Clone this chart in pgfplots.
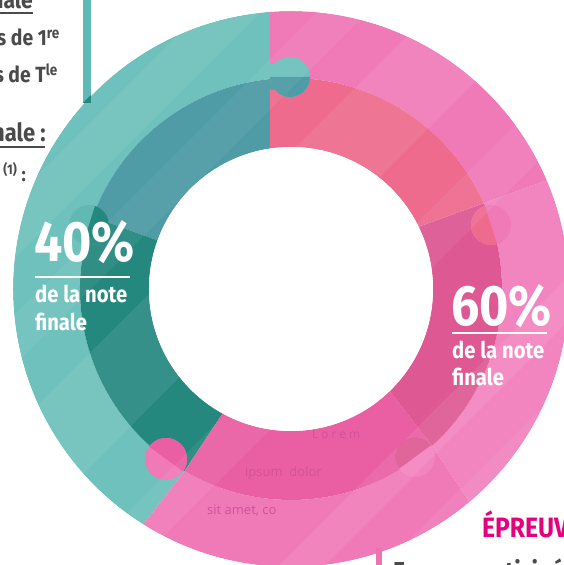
\documentclass[border=0pt]{standalone}
\usepackage{fontspec}
\setmainfont{Fira Sans}
\newfontfamily\cond[FakeStretch=0.88]{Fira Sans}
\newfontfamily\osans{Open Sans}
\usepackage{pgfplots}
\usepackage{pgfplotstable}
\pgfplotsset{compat=1.18}

\definecolor{tealOut}{HTML}{6EC1BC}
\definecolor{tealOutD}{HTML}{62B9B3}
\definecolor{tealInA}{HTML}{4F9BA6}
\definecolor{tealInB}{HTML}{25887F}
\definecolor{pinkOutT}{HTML}{F07AB8}
\definecolor{pinkOutR}{HTML}{F284BF}
\definecolor{pinkOutB}{HTML}{F07AB8}
\definecolor{pinkInT}{HTML}{EE6B8E}
\definecolor{pinkInM}{HTML}{DE5893}
\definecolor{pinkInB}{HTML}{EA5FA3}
\definecolor{darkgray}{HTML}{4A4A4A}
\definecolor{magentaT}{HTML}{E5007D}
\definecolor{pinkBar}{HTML}{EE72B0}
\definecolor{tealBar}{HTML}{5FBAB5}
\definecolor{faint}{HTML}{D3509A}

% shares of the final mark
\pgfplotstableread{
part share
controle 40
epreuves 60
}\sharetable
\pgfplotstablegetelem{0}{share}\of\sharetable
\pgfmathsetmacro\shareA{\pgfplotsretval}
\pgfplotstablegetelem{1}{share}\of\sharetable
\pgfmathsetmacro\shareB{\pgfplotsretval}
\pgfmathsetmacro\angS{95.7}
\pgfmathsetmacro\angM{\angS+3.6*\shareA}
\pgfmathsetmacro\angE{\angM+3.6*\shareB}
% the cuts are slightly skewed (not radial)
\pgfmathsetmacro\angSo{\angS-1.4}
\pgfmathsetmacro\angSi{\angS+2.8}
\pgfmathsetmacro\angMo{\angM-1.8}
\pgfmathsetmacro\angMi{\angM+1.5}
\pgfmathsetmacro\angEo{\angE-1.4}
\pgfmathsetmacro\angEi{\angE+2.8}

% ring segment: color, a1(outer), a2(outer), a1(inner), a2(inner), r_in, r_out
\newcommand\ringseg[7]{%
  \fill[#1] (axis cs:{291+#7*cos(#2)},{-289+#7*sin(#2)})
    arc[start angle=#2, end angle=#3, radius=#7pt]
    -- (axis cs:{291+#6*cos(#5)},{-289+#6*sin(#5)})
    arc[start angle=#5, end angle=#4, radius=#6pt] -- cycle;}
% puzzle knob: x, y(img), r, inner direction, outer colour, inner colour
\newcommand\knob[6]{%
  \fill[#5] (axis cs:#1,-#2) circle[radius=#3pt];
  \fill[#6] (axis cs:{#1+#3*cos(#4-90)},{-#2+#3*sin(#4-90)})
    arc[start angle=#4-90, end angle=#4+90, radius=#3pt] -- cycle;}
% light diagonal band: u1, u2 (x+y in image pixels), opacity
\newcommand\band[3]{%
  \fill[white, opacity=#3] (axis cs:#1+100,100) -- (axis cs:#2+100,100)
    -- (axis cs:#2-800,-800) -- (axis cs:#1-800,-800) -- cycle;}

\begin{document}
\begin{tikzpicture}
\begin{axis}[at={(0,0)}, anchor=south west, scale only axis,
  width=563pt, height=565pt, xmin=0, xmax=563, ymin=-565, ymax=0,
  axis lines=none, clip=false]
% outer ring
\ringseg{tealOut}{\angSo}{\angMo}{\angS}{\angM}{211}{278}
\ringseg{pinkOutB}{\angMo}{310}{\angM}{312}{211}{278}
\ringseg{pinkOutR}{310}{383}{312}{384}{211}{278}
\ringseg{pinkOutT}{383}{\angEo}{384}{\angE}{211}{278}
% inner ring
\ringseg{tealInA}{\angS}{160}{\angSi}{160}{142}{211}
\ringseg{tealInB}{160}{\angM}{160}{\angMi}{142}{211}
\ringseg{pinkInB}{\angM}{312}{\angMi}{314}{142}{211}
\ringseg{pinkInM}{312}{384}{314}{386}{142}{211}
\ringseg{pinkInT}{384}{\angE}{386}{\angEi}{142}{211}
% puzzle knobs
\fill[tealOut] (axis cs:268,-64) rectangle (axis cs:282,-79);
\fill[tealInA] (axis cs:268,-79) rectangle (axis cs:282,-90);
\knob{290}{77}{20}{270}{tealOut}{tealInA}
\knob{166}{459}{21}{53.7}{pinkOutB}{pinkInB}
\knob{491}{225}{20}{197.7}{pinkOutT}{pinkInT}
\knob{415}{457}{20}{126.4}{pinkOutR}{pinkInM}
\knob{89}{225}{20}{-17.4}{tealOutD}{tealInB}
% subtle diagonal bands
\band{120}{170}{0.06}
\band{213}{273}{0.07}
\band{330}{380}{0.05}
\band{443}{557}{0.07}
\band{640}{700}{0.06}
\band{845}{890}{0.08}
\band{950}{1010}{0.06}
% hole and outside mask
\fill[white] (axis cs:291,-289) circle[radius=142pt];
\fill[white, even odd rule] (axis cs:-100,100) rectangle (axis cs:700,-700)
  (axis cs:291,-289) circle[radius=278pt];
% faint placeholder text
\node[anchor=base west, inner sep=0, text=faint, font=\osans\fontsize{12}{12}\selectfont\addfontfeature{LetterSpace=25}] at (axis cs:312,-438) {Lorem};
\node[anchor=base west, inner sep=0, text=faint, font=\osans\fontsize{13}{13}\selectfont] at (axis cs:245,-476) {ipsum\ \ dolor};
\node[anchor=base west, inner sep=0, text=faint, font=\osans\fontsize{13}{13}\selectfont] at (axis cs:207,-514) {sit amet, co};
% labels 40%
\node[anchor=base west, inner sep=0, text=white, font=\cond\bfseries\fontsize{57}{57}\selectfont] at (axis cs:34,-262) {40\%};
\draw[white, line width=1.5pt] (axis cs:35,-277) -- (axis cs:130,-277);
\node[anchor=base west, inner sep=0, text=white, font=\cond\bfseries\fontsize{23}{23}\selectfont] at (axis cs:35,-303) {de la note};
\node[anchor=base west, inner sep=0, text=white, font=\cond\bfseries\fontsize{23}{23}\selectfont] at (axis cs:35,-330) {finale};
% labels 60%
\node[anchor=base west, inner sep=0, text=white, font=\cond\bfseries\fontsize{57}{57}\selectfont] at (axis cs:451,-325) {60\%};
\draw[white, line width=1.5pt] (axis cs:452,-333) -- (axis cs:547,-333);
\node[anchor=base west, inner sep=0, text=white, font=\cond\bfseries\fontsize{23}{23}\selectfont] at (axis cs:452,-358) {de la note};
\node[anchor=base west, inner sep=0, text=white, font=\cond\bfseries\fontsize{23}{23}\selectfont] at (axis cs:452,-385) {finale};
% left partial text
\fill[tealBar] (axis cs:83,0) rectangle (axis cs:91,-103);
\fill[tealInB] (axis cs:83,-103) -- (axis cs:91,-95) -- (axis cs:91,-103) -- cycle;
\node[anchor=base east, inner sep=0, text=darkgray, font=\cond\bfseries\fontsize{24}{24}\selectfont] at (axis cs:33,-9) {Contr\^ole continu et finale};
\draw[darkgray, line width=1.2pt] (axis cs:-80,-13) -- (axis cs:33,-13);
\node[anchor=base east, inner sep=0, text=darkgray, font=\cond\bfseries\fontsize{22}{22}\selectfont] at (axis cs:60,-46) {Moyennes de 1\textsuperscript{re}};
\node[anchor=base east, inner sep=0, text=darkgray, font=\cond\bfseries\fontsize{22}{22}\selectfont] at (axis cs:58,-83) {Moyennes de T\textsuperscript{le}};
\node[anchor=base east, inner sep=0, text=darkgray, font=\cond\bfseries\fontsize{25}{25}\selectfont] at (axis cs:46,-142) {Note finale :};
\draw[darkgray, line width=1.2pt] (axis cs:-80,-147) -- (axis cs:45,-147);
\node[anchor=base east, inner sep=0, text=darkgray, font=\cond\bfseries\fontsize{20}{20}\selectfont] at (axis cs:26,-182) {Moyenne\,\textsuperscript{(1)}~:};
% bottom right partial text
\node[anchor=base west, inner sep=0, text=magentaT, font=\cond\bfseries\fontsize{28}{28}\selectfont] at (axis cs:482,-537) {ÉPREUVES};
\fill[pinkBar] (axis cs:376,-548) rectangle (axis cs:382,-570);
\node[anchor=base west, inner sep=0, text=darkgray, font=\cond\bfseries\fontsize{26}{26}\selectfont] at (axis cs:393,-580) {Examen anticipé 1};
\end{axis}
\pgfresetboundingbox
\path[use as bounding box] (0,0) rectangle (563pt,565pt);
\end{tikzpicture}
\end{document}
